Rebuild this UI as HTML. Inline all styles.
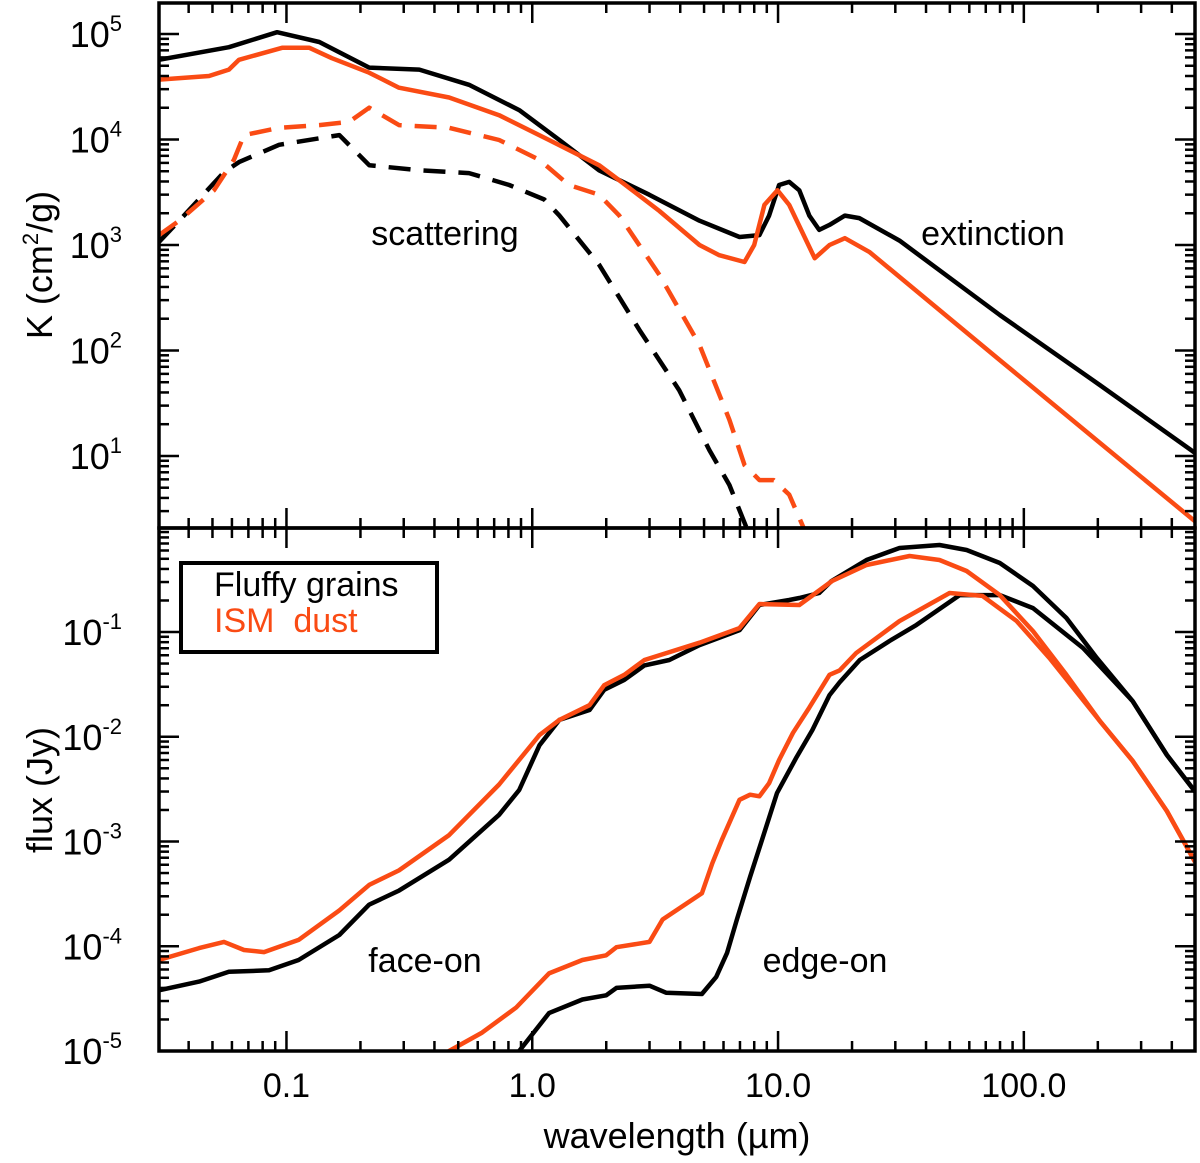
<!DOCTYPE html>
<html><head><meta charset="utf-8"><style>
html,body{margin:0;padding:0;background:#fff;}
svg{display:block;font-family:"Liberation Sans",Arial,sans-serif;}
</style></head><body>
<svg id="chart" width="1200" height="1163" viewBox="0 0 1200 1163" xmlns="http://www.w3.org/2000/svg">
<defs>
<clipPath id="clipTop"><rect x="159" y="3" width="1036" height="525"/></clipPath>
<clipPath id="clipBot"><rect x="159" y="528" width="1036" height="523"/></clipPath>
</defs>
<g id="topMarks" clip-path="url(#clipTop)"></g>
<g id="botMarks" clip-path="url(#clipBot)"></g>
<g id="axes"></g>
<text x="445" y="245" font-size="34" text-anchor="middle">scattering</text>
<text x="993" y="245" font-size="34" text-anchor="middle">extinction</text>
<text x="425" y="972" font-size="34" text-anchor="middle">face-on</text>
<text x="825" y="972" font-size="34" text-anchor="middle">edge-on</text>
<g>
<rect x="181" y="563" width="256" height="89" fill="#fff" stroke="#000" stroke-width="4"/>
<text x="214" y="596" font-size="34" fill="#000">Fluffy grains</text>
<text x="214" y="632" font-size="34" fill="#fa4b14" xml:space="preserve">ISM  dust</text>
</g>
<text x="677" y="1148" font-size="36" text-anchor="middle">wavelength (µm)</text>
<text transform="translate(52,265) rotate(-90)" font-size="36" text-anchor="middle">K (cm<tspan font-size="22" dy="-14">2</tspan><tspan dy="14">/g)</tspan></text>
<text transform="translate(52,790) rotate(-90)" font-size="36" text-anchor="middle">flux (Jy)</text>
</svg>
<script>
// ---- data: top panel (opacity K, cm^2/g) ----
const extFluffyWl = [0.0303,0.0583,0.0916,0.136,0.217,0.347,0.553,0.885,1.29,1.87,2.99,4.79,6.97,8.40,9.2,10.1,11.1,12.2,13.4,14.7,16.2,18.7,21.4,31.2,79.8,204,497];
const extFluffyK  = [5.7e4,7.5e4,1.04e5,8.4e4,4.8e4,4.6e4,3.3e4,1.9e4,9.9e3,5.1e3,3.0e3,1.7e3,1.19e3,1.24e3,1.9e3,3.7e3,3.96e3,3.3e3,1.9e3,1.39e3,1.55e3,1.9e3,1.8e3,1.1e3,217,47,10.7];
const extIsmWl = [0.0303,0.0484,0.0583,0.0641,0.096,0.124,0.153,0.217,0.287,0.459,0.733,1.17,1.87,2.26,3.29,4.79,5.77,7.3,8.0,8.8,9.95,11.1,14.1,16.2,18.7,23.5,79.8,204,497];
const extIsmK  = [3.7e4,4.0e4,4.6e4,5.7e4,7.4e4,7.4e4,5.9e4,4.3e4,3.1e4,2.5e4,1.7e4,9.9e3,5.7e3,4.1e3,2.1e3,1.0e3,800,690,1.0e3,2.4e3,3.3e3,2.4e3,750,1.0e3,1.16e3,860,81,13.3,2.4];
const scaFluffyWl = [0.0303,0.0383,0.0557,0.0641,0.0933,0.164,0.217,0.347,0.553,0.806,1.12,1.29,1.87,2.73,3.96,5.25,6.34,7.5];
const scaFluffyK  = [1.07e3,1.9e3,4.9e3,6.1e3,8.9e3,1.1e4,5.7e3,5.1e3,4.8e3,3.7e3,2.7e3,1.9e3,650,156,42,11.4,5.3,2.0];
const scaIsmWl = [0.0303,0.0366,0.0507,0.0611,0.0672,0.0933,0.136,0.18,0.217,0.287,0.459,0.733,1.07,1.41,1.87,2.26,3.29,4.79,6.34,7.3,8.4,9.6,11.1,12.8];
const scaIsmK  = [1.24e3,1.7e3,3.3e3,6.4e3,1.1e4,1.29e4,1.37e4,1.47e4,2.0e4,1.37e4,1.29e4,9.9e3,6.4e3,3.7e3,3.0e3,1.9e3,520,113,22,8.2,5.9,5.9,4.3,2.0];
// ---- data: bottom panel (flux, Jy) ----
const faceFluffyWl = [0.0303,0.0441,0.0583,0.0849,0.112,0.164,0.217,0.287,0.459,0.733,0.885,1.07,1.29,1.71,1.96,2.37,2.86,3.61,4.79,6.97,8.40,11.1,12.2,14.7,16.5,22.9,31.2,45.4,58.5,79.8,109,149,198,277,382,497];
const faceFluffyF  = [3.8e-5,4.6e-5,5.7e-5,5.9e-5,7.4e-5,1.28e-4,2.5e-4,3.4e-4,6.7e-4,1.8e-3,3.1e-3,8.3e-3,1.45e-2,1.8e-2,2.8e-2,3.5e-2,4.8e-2,5.4e-2,7.5e-2,0.104,0.181,0.202,0.211,0.236,0.307,0.487,0.634,0.677,0.607,0.456,0.275,0.136,0.0565,0.0219,6.7e-3,3.0e-3];
const faceIsmWl = [0.0303,0.0441,0.0557,0.0672,0.081,0.112,0.164,0.217,0.287,0.459,0.733,1.07,1.29,1.71,1.96,2.37,2.86,4.79,6.97,8.40,12.2,16.6,22.9,34.3,45.4,58.5,79.8,109,149,204,277,382,497];
const faceIsmF  = [7.4e-5,9.6e-5,1.1e-4,9.2e-5,8.8e-5,1.15e-4,2.2e-4,3.85e-4,5.3e-4,1.15e-3,3.5e-3,1.04e-2,1.45e-2,2.0e-2,3.1e-2,3.9e-2,5.4e-2,7.9e-2,0.109,0.185,0.181,0.307,0.436,0.532,0.487,0.382,0.225,0.102,0.039,0.0141,5.9e-3,1.95e-3,6.4e-4];
const edgeFluffyWl = [0.80,0.885,1.17,1.60,2.0,2.2,3.0,3.5,4.9,5.6,6.2,6.8,7.7,8.6,9.9,11.9,13.8,16.2,17.8,21.5,28.4,36.6,54.8,79.8,109,174,277,382,497];
const edgeFluffyF  = [6e-6,1.0e-5,2.3e-5,3.1e-5,3.4e-5,4.0e-5,4.2e-5,3.6e-5,3.5e-5,5.1e-5,8.6e-5,1.8e-4,4.6e-4,1.03e-3,2.9e-3,6.4e-3,1.16e-2,2.5e-2,3.3e-2,5.4e-2,8.2e-2,0.117,0.225,0.225,0.169,0.0703,0.0219,6.7e-3,3.0e-3];
const edgeIsmWl = [0.418,0.459,0.625,0.86,1.17,1.60,2.0,2.2,3.0,3.39,4.9,5.4,5.9,6.97,7.7,8.4,9.2,10.1,11.5,13.4,16.2,17.8,20.8,31.2,49.9,67.9,93.5,127,204,277,382,497];
const edgeIsmF  = [8.6e-6,1.0e-5,1.5e-5,2.6e-5,5.5e-5,7.4e-5,8.2e-5,9.8e-5,1.1e-4,1.8e-4,3.2e-4,6.2e-4,1.03e-3,2.5e-3,2.8e-3,2.7e-3,3.6e-3,6.0e-3,1.09e-2,1.9e-2,3.9e-2,4.3e-2,6.3e-2,0.127,0.236,0.221,0.127,0.0565,0.0141,5.9e-3,1.95e-3,6.4e-4];
// ---- tick labels ----
const xTickValues = [0.1,1,10,100];
const xTickLabels = ["0.1","1.0","10.0","100.0"];
const topYExps = [1,2,3,4,5];
const botYExps = [-5,-4,-3,-2,-1];

const NS = "http://www.w3.org/2000/svg";
const X0 = 159, X1 = 1195, XMIN = Math.log10(0.0303), XMAX = Math.log10(497);
const xScale = v => X0 + (Math.log10(v) - XMIN) / (XMAX - XMIN) * (X1 - X0);
const TY0 = 3, TY1 = 528, TLMAX = 5.294, TLMIN = 0.317;
const yTop = v => TY0 + (TLMAX - Math.log10(v)) / (TLMAX - TLMIN) * (TY1 - TY0);
const BY0 = 528, BY1 = 1051, BLMAX = -0.007, BLMIN = -5.0;
const yBot = v => BY0 + (BLMAX - Math.log10(v)) / (BLMAX - BLMIN) * (BY1 - BY0);
const BLACK = "#000", ORANGE = "#fa4b14";

function mk(tag, attrs, parent){ const e=document.createElementNS(NS,tag); for(const k in attrs) e.setAttribute(k,attrs[k]); parent.appendChild(e); return e; }

function line(parent, xs, ys, yf, color, dashed, name){
  const d = xs.map((x,i)=>(i?"L":"M")+xScale(x).toFixed(1)+","+yf(ys[i]).toFixed(1)).join("");
  const p = mk("path",{d:d,fill:"none",stroke:color,"stroke-width":4.5,"stroke-linejoin":"round"},parent);
  if(dashed) p.setAttribute("stroke-dasharray","22 13");
  
  
}
const topG = document.getElementById("topMarks"), botG = document.getElementById("botMarks");
line(topG, scaFluffyWl, scaFluffyK, yTop, BLACK, true, "scattering-fluffy-line");
line(topG, scaIsmWl, scaIsmK, yTop, ORANGE, true, "scattering-ism-line");
line(topG, extFluffyWl, extFluffyK, yTop, BLACK, false, "extinction-fluffy-line");
line(topG, extIsmWl, extIsmK, yTop, ORANGE, false, "extinction-ism-line");
line(botG, faceFluffyWl, faceFluffyF, yBot, BLACK, false, "face-on-fluffy-line");
line(botG, edgeFluffyWl, edgeFluffyF, yBot, BLACK, false, "edge-on-fluffy-line");
line(botG, faceIsmWl, faceIsmF, yBot, ORANGE, false, "face-on-ism-line");
line(botG, edgeIsmWl, edgeIsmF, yBot, ORANGE, false, "edge-on-ism-line");

const ax = document.getElementById("axes");
function seg(x1,y1,x2,y2,w){ mk("line",{x1:x1,y1:y1,x2:x2,y2:y2,stroke:"#000","stroke-width":w||2.5},ax); }
[[TY0,TY1],[BY0,BY1]].forEach(([a,b])=>{
  const r = mk("rect",{x:X0,y:a,width:X1-X0,height:b-a,fill:"none",stroke:"#000","stroke-width":3.5},ax);
  
  
});
const xEdges = [[TY0,1],[TY1,-1],[BY0,1],[BY1,-1]];
for(let e=-2;e<=2;e++){
  for(let m=1;m<=9;m++){
    const v=m*Math.pow(10,e); if(v<0.0303||v>497) continue;
    const x=xScale(v), L=(m===1)?20:10;
    xEdges.forEach(([y,dir])=>seg(x,y,x,y+dir*L));
  }
}
function yTicks(yf, lo, hi, ymin, ymax){
  for(let e=lo;e<=hi;e++){
    for(let m=1;m<=9;m++){
      const v=m*Math.pow(10,e); const y=yf(v); if(y<ymin-0.5||y>ymax+0.5) continue;
      const L=(m===1)?20:10;
      seg(X0,y,X0+L,y); seg(X1,y,X1-L,y);
    }
  }
}
yTicks(yTop,0,5,TY0,TY1);
yTicks(yBot,-6,-1,BY0,BY1);
xTickValues.forEach((v,i)=>{
  const t=mk("text",{x:xScale(v),y:1097,"font-size":34,"text-anchor":"middle"},ax);
  t.textContent=xTickLabels[i];
  
  
});
function yLabel(y, exp){
  const t=mk("text",{x:122,y:y+13,"font-size":36,"text-anchor":"end"},ax);
  
  
  const a=document.createElementNS(NS,"tspan"); a.textContent="10"; t.appendChild(a);
  const b=document.createElementNS(NS,"tspan"); b.setAttribute("font-size","22"); b.setAttribute("dy","-16"); b.textContent=String(exp); t.appendChild(b);
}
topYExps.forEach(e=>yLabel(yTop(Math.pow(10,e)),e));
botYExps.forEach(e=>yLabel(yBot(Math.pow(10,e)),e));
</script>
</body></html>
